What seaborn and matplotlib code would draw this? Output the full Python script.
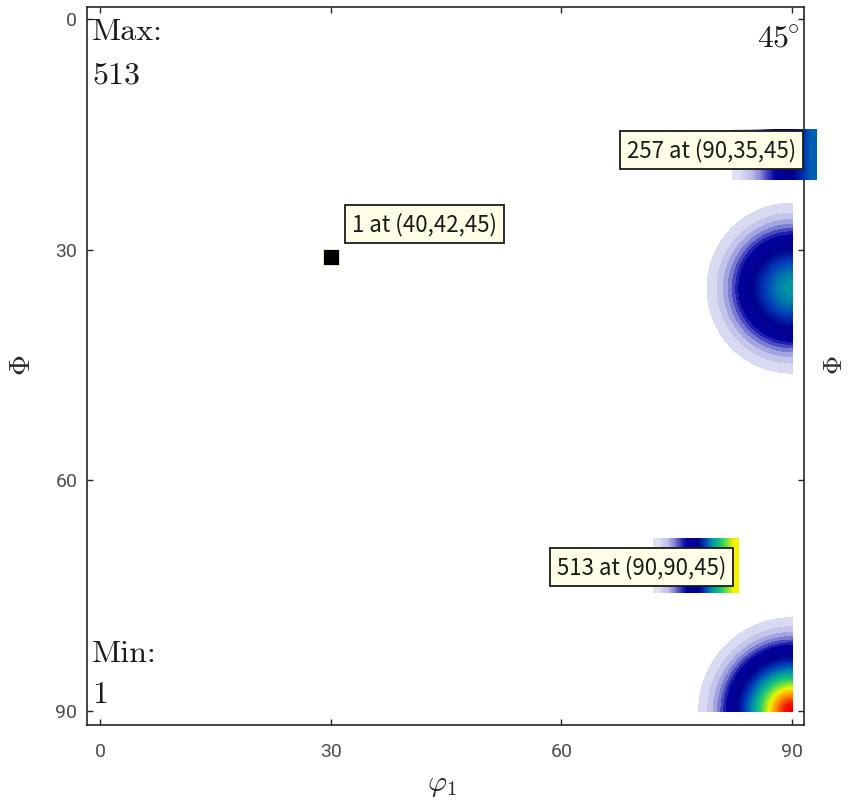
import numpy as np
import seaborn as sns
import matplotlib.pyplot as plt
from matplotlib.colors import LinearSegmentedColormap, Normalize

# ODF section at phi2 = 45 deg, peaks
peak_phi1 = [90, 90]
peak_Phi = [35, 90]
peak_value = [257, 513]
peak_width = 4.27
odf_min = 1
odf_max = 513

# data tips
tip_text = ["1 at (40,42,45)", "257 at (90,35,45)", "513 at (90,90,45)"]
tip_x = [42.2, 79.5, 70.4]
tip_y = [26.7, 17.1, 71.3]
marker_x = [30]
marker_y = [31]

# colour smears left behind the data tips
smear_257 = [0.02, 0.05, 0.09, 0.14, 0.2, 0.3, 0.42]
smear_513 = [0.02, 0.06, 0.11, 0.16, 0.3, 0.5, 0.65, 0.8]

ticks = [0, 30, 60, 90]

sns.set_style("ticks")
plt.rcParams['font.family'] = ['Roboto', 'DejaVu Sans']
plt.rcParams['mathtext.fontset'] = 'cm'

cmap = LinearSegmentedColormap.from_list("whitejet", [
    (0.00, (1, 1, 1)),
    (0.02, (0.88, 0.88, 0.96)),
    (0.05, (0.76, 0.76, 0.92)),
    (0.08, (0.55, 0.55, 0.85)),
    (0.11, (0.25, 0.25, 0.75)),
    (0.14, (0.0, 0.0, 0.62)),
    (0.25, (0.0, 0.0, 0.55)),
    (0.36, (0.0, 0.22, 0.72)),
    (0.50, (0.0, 0.58, 0.65)),
    (0.62, (0.1, 0.78, 0.45)),
    (0.72, (0.5, 0.9, 0.2)),
    (0.80, (0.97, 0.95, 0.0)),
    (0.90, (1.0, 0.55, 0.0)),
    (1.00, (0.95, 0.0, 0.0)),
])
norm = Normalize(odf_min, odf_max)

phi1 = np.linspace(0, 90, 361)
Phi = np.linspace(0, 90, 361)
X, Y = np.meshgrid(phi1, Phi)
Z = np.full_like(X, float(odf_min))
for px, py, pv in zip(peak_phi1, peak_Phi, peak_value):
    Z += (pv - odf_min) * np.exp(-((X - px) ** 2 + (Y - py) ** 2) / (2 * peak_width ** 2))

fig = plt.figure(figsize=(8.52, 8.05), dpi=100)
ax = fig.add_axes([0.1021, 0.0994, 0.8415, 0.8919])

levels = np.arange(10, 530, 10)
ax.contourf(X, Y, Z, levels=levels, cmap=cmap, norm=norm, zorder=1)

# smears behind the tip boxes
ax.imshow(np.array([smear_257]), cmap=cmap, vmin=0, vmax=1, aspect='auto',
          extent=(82.2, 93.2, 20.9, 14.3), interpolation='bilinear',
          zorder=3, clip_on=False)
ax.imshow(np.array([smear_513]), cmap=cmap, vmin=0, vmax=1, aspect='auto',
          extent=(71.9, 83.0, 74.6, 67.5), interpolation='bilinear',
          zorder=3, clip_on=False)

sns.scatterplot(x=marker_x, y=marker_y, marker='s', s=135, color='black',
                edgecolor='#fff6c0', linewidth=0.6, ax=ax, zorder=4, legend=False)

for s, x, y in zip(tip_text, tip_x, tip_y):
    ax.text(x, y, s, ha='center', va='center', fontsize=16,
            family=['Noto Sans CJK JP', 'DejaVu Sans'], color='#1a1a1a',
            bbox=dict(boxstyle='square,pad=0.32', fc='#ffffe8', ec='#1a1a1a', lw=1.3),
            zorder=5, clip_on=False)

ax.set_xlim(-1.7, 91.55)
ax.set_ylim(91.8, -1.55)
ax.set_xticks(ticks)
ax.set_yticks(ticks)
ax.tick_params(direction='in', length=4.5, width=1.0, top=True, right=True,
               labelsize=14, labelcolor='#4d4d4d', color='#262626')
ax.tick_params(axis='x', pad=13)
ax.tick_params(axis='y', pad=7)
for sp in ax.spines.values():
    sp.set_color('#262626')
    sp.set_linewidth(1.2)

ax.set_xlabel(r'$\varphi_1$', fontsize=21)
ax.xaxis.set_label_coords(0.495, -0.0836)
ax.xaxis.label.set_va('center')
ax.set_ylabel(r'$\Phi$', fontsize=21)
ax.yaxis.set_label_coords(-0.0907, 0.5014)
ax.yaxis.label.set_va('center')
ax.text(1.043, 0.5014, r'$\Phi$', transform=ax.transAxes, fontsize=19,
        rotation=90, ha='center', va='center')

big = dict(transform=ax.transAxes, fontsize=23, family='cmr10', color='#1a1a1a')
ax.text(0.007, 0.954, 'Max:', va='baseline', ha='left', **big)
ax.text(0.007, 0.894, '513', va='baseline', ha='left', **big)
ax.text(0.007, 0.0877, 'Min:', va='baseline', ha='left', **big)
ax.text(0.007, 0.0306, '1', va='baseline', ha='left', **big)
ax.text(0.9944, 0.944, r'$45^{\!\!\circ}$', transform=ax.transAxes, fontsize=23,
        va='baseline', ha='right', color='#1a1a1a')

fig.savefig('out.png', dpi=100)
